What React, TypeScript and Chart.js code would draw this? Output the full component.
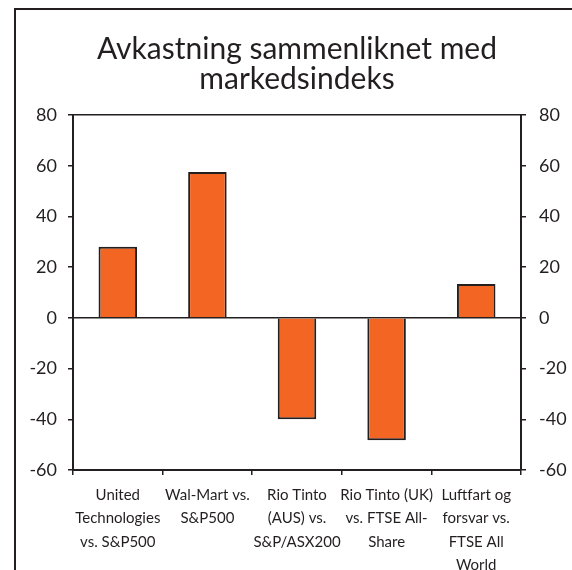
import React, { useEffect, useRef } from "react";
import { Chart, registerables } from "chart.js";

Chart.register(...registerables);

const titleLines = ["Avkastning sammenliknet med", "markedsindeks"];
const categories: string[][] = [
  ["United", "Technologies", "vs. S&P500"],
  ["Wal-Mart vs.", "S&P500"],
  ["Rio Tinto", "(AUS) vs.", "S&P/ASX200"],
  ["Rio Tinto (UK)", "vs. FTSE All-", "Share"],
  ["Luftfart og", "forsvar vs.", "FTSE All", "World"],
];
const values = [28, 57.5, -40, -48.3, 13.4];
const yMin = -60;
const yMax = 80;
const yStep = 20;

const DARK = "#231f20";
const ORANGE = "#f26522";
const FONT = "Lato, 'Open Sans', sans-serif";

const framePlugin = {
  id: "frame",
  beforeDraw(chart: any) {
    const ctx = chart.ctx;
    ctx.save();
    ctx.fillStyle = "#ffffff";
    ctx.fillRect(0, 0, chart.width, chart.height);
    ctx.strokeStyle = DARK;
    ctx.lineWidth = 2;
    ctx.strokeRect(15, 9, 800, 800);
    ctx.restore();
  },
};

export default function App() {
  const ref = useRef<HTMLCanvasElement | null>(null);
  useEffect(() => {
    if (!ref.current) return;
    const chart = new Chart(ref.current, {
      type: "bar",
      data: {
        labels: categories,
        datasets: [
          {
            data: values,
            backgroundColor: ORANGE,
            borderColor: DARK,
            borderWidth: 2,
            barPercentage: 0.43,
            categoryPercentage: 1,
            yAxisID: "y",
          },
        ],
      },
      options: {
        responsive: false,
        animation: false,
        layout: { padding: { left: 0, right: 0, top: 0, bottom: 0 } },
        plugins: {
          legend: { display: false },
          tooltip: { enabled: false },
          title: {
            display: true,
            text: titleLines,
            fullSize: false,
            color: DARK,
            font: { family: FONT, size: 30, weight: "normal", lineHeight: 1 },
            padding: { top: 34, bottom: 21 },
          },
        },
        scales: {
          x: {
            grid: {
              offset: true,
              drawOnChartArea: false,
              color: DARK,
              tickColor: DARK,
              tickLength: 5,
              lineWidth: 1.5,
            },
            border: { display: true, color: DARK, width: 2 },
            ticks: {
              color: DARK,
              font: { family: FONT, size: 15, lineHeight: 23.5 / 15 },
              padding: 8,
              maxRotation: 0,
              autoSkip: false,
            },
            afterFit(scale: any) {
              scale.height = 100;
            },
          },
          y: {
            position: "left",
            min: yMin,
            max: yMax,
            ticks: {
              stepSize: yStep,
              color: DARK,
              font: { family: FONT, size: 18 },
              padding: 11,
            },
            grid: {
              color: (c: any) =>
                c.tick && (c.tick.value === 0 || c.tick.value === yMax) ? DARK : "rgba(0,0,0,0)",
              tickColor: DARK,
              tickLength: 5,
              lineWidth: 1.5,
            },
            border: { display: true, color: DARK, width: 2 },
            afterFit(scale: any) {
              scale.width = 73;
            },
          },
          y2: {
            position: "right",
            min: yMin,
            max: yMax,
            ticks: {
              stepSize: yStep,
              color: DARK,
              font: { family: FONT, size: 18 },
              padding: 13,
            },
            grid: {
              drawOnChartArea: false,
              color: DARK,
              tickColor: DARK,
              tickLength: 5,
              lineWidth: 1.5,
            },
            border: { display: true, color: DARK, width: 2 },
            afterFit(scale: any) {
              scale.width = 51;
            },
          },
        },
      },
      plugins: [framePlugin],
    } as any);
    return () => chart.destroy();
  }, []);
  return (
    <div style={{ position: "fixed", left: 0, top: 0, width: 572, height: 570 }}>
      <canvas ref={ref} width={572} height={570} style={{ width: 572, height: 570 }} />
    </div>
  );
}
